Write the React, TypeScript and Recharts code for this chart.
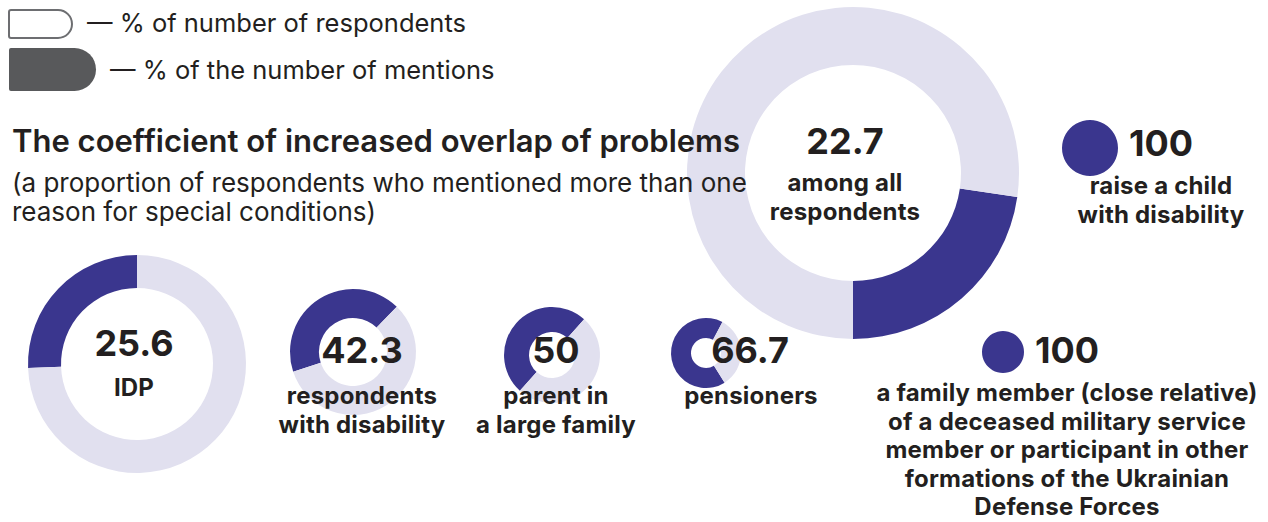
import React from 'react';
import { PieChart, Pie, Cell } from 'recharts';

const categories = [
  'among all respondents',
  'IDP',
  'respondents with disability',
  'parent in a large family',
  'pensioners',
  'raise a child with disability',
  'a family member (close relative) of a deceased military service member or participant in other formations of the Ukrainian Defense Forces',
];
const overlapValues = [22.7, 25.6, 42.3, 50, 66.7, 100, 100];
const labelLines = [
  ['among all', 'respondents'],
  ['IDP'],
  ['respondents', 'with disability'],
  ['parent in', 'a large family'],
  ['pensioners'],
  ['raise a child', 'with disability'],
  [
    'a family member (close relative)',
    'of a deceased military service',
    'member or participant in other',
    'formations of the Ukrainian',
    'Defense Forces',
  ],
];
const legendLabels = ['— % of number of respondents', '— % of the number of mentions'];
const titleText = 'The coefficient of increased overlap of problems';
const subtitleLines = [
  '(a proportion of respondents who mentioned more than one',
  'reason for special conditions)',
];

const DARK = '#3a368e';
const LIGHT = '#e1e0ef';
const INK = '#231f20';

// where each donut and its text sit
const layout = [
  { cx: 848, cy: 168, outer: 166, inner: 108, start: -90, numX: 845, numY: 141, labX: 845, labY: 183, gap: 29 },
  { cx: 132, cy: 359, outer: 109, inner: 76, start: 90, numX: 134, numY: 343, labX: 134, labY: 388, gap: 29 },
  { cx: 348, cy: 347, outer: 63, inner: 34, start: 46, numX: 362, numY: 350, labX: 362, labY: 396, gap: 29 },
  { cx: 547, cy: 350, outer: 48, inner: 23, start: 48, numX: 556, numY: 350, labX: 556, labY: 396, gap: 29 },
  { cx: 701, cy: 348, outer: 35, inner: 15, start: 62, numX: 750, numY: 350, labX: 751, labY: 396, gap: 29 },
  { cx: 1085, cy: 143, outer: 28, inner: 0, start: 90, numX: 1161, numY: 143, labX: 1161, labY: 186, gap: 29 },
  { cx: 998, cy: 347, outer: 21, inner: 0, start: 90, numX: 1067, numY: 350, labX: 1067, labY: 393, gap: 28.5 },
];

type TProps = {
  x: number;
  y: number;
  size: number;
  weight?: number;
  center?: boolean;
  spacing?: number;
  children: React.ReactNode;
};

function T({ x, y, size, weight = 400, center = false, spacing = 0, children }: TProps) {
  return (
    <div
      style={{
        position: 'absolute',
        left: x,
        top: y,
        fontSize: size,
        fontWeight: weight,
        letterSpacing: spacing,
        lineHeight: 1,
        whiteSpace: 'nowrap',
        transform: center ? 'translate(-50%, -50%)' : 'translateY(-50%)',
        color: INK,
      }}
    >
      {children}
    </div>
  );
}

export default function App() {
  return (
    <div
      style={{
        position: 'relative',
        width: 1268,
        height: 522,
        overflow: 'hidden',
        background: '#fff',
        fontFamily: 'Inter, "Noto Sans", sans-serif',
      }}
    >
      <style>{'body{margin:0}'}</style>
      <PieChart width={1268} height={522} style={{ position: 'absolute', left: 0, top: 0 }}>
        {overlapValues.map((v, i) => {
          const l = layout[i];
          const data = [
            { name: categories[i], value: v },
            { name: 'other', value: 100 - v },
          ];
          return (
            <Pie
              key={categories[i]}
              data={data}
              dataKey="value"
              cx={l.cx}
              cy={l.cy}
              innerRadius={l.inner}
              outerRadius={l.outer}
              startAngle={l.start}
              endAngle={l.start + 360}
              stroke="none"
              isAnimationActive={false}
            >
              <Cell fill={DARK} />
              <Cell fill={LIGHT} />
            </Pie>
          );
        })}
      </PieChart>

      {/* legend */}
      <div
        style={{
          position: 'absolute',
          left: 8,
          top: 9,
          width: 61,
          height: 26,
          border: '2px solid #6d6e71',
          borderRadius: '3px 15px 15px 3px',
        }}
      />
      <div
        style={{
          position: 'absolute',
          left: 9,
          top: 48,
          width: 87,
          height: 43,
          background: '#58595b',
          borderRadius: '2px 22px 22px 2px',
        }}
      />
      <T x={87} y={23} size={25.5}>{legendLabels[0]}</T>
      <T x={110} y={70} size={25.5}>{legendLabels[1]}</T>

      <T x={12} y={140} size={31} weight={600}>{titleText}</T>
      {subtitleLines.map((s, k) => (
        <T key={s} x={12} y={183 + k * 29} size={26}>{s}</T>
      ))}

      {overlapValues.map((v, i) => {
        const l = layout[i];
        return (
          <React.Fragment key={'t' + i}>
            <T x={l.numX} y={l.numY} size={36} weight={700} center>
              {String(v)}
            </T>
            {labelLines[i].map((line, k) => (
              <T key={line} x={l.labX} y={l.labY + k * l.gap} size={24} weight={700} spacing={0.2} center>
                {line}
              </T>
            ))}
          </React.Fragment>
        );
      })}
    </div>
  );
}
